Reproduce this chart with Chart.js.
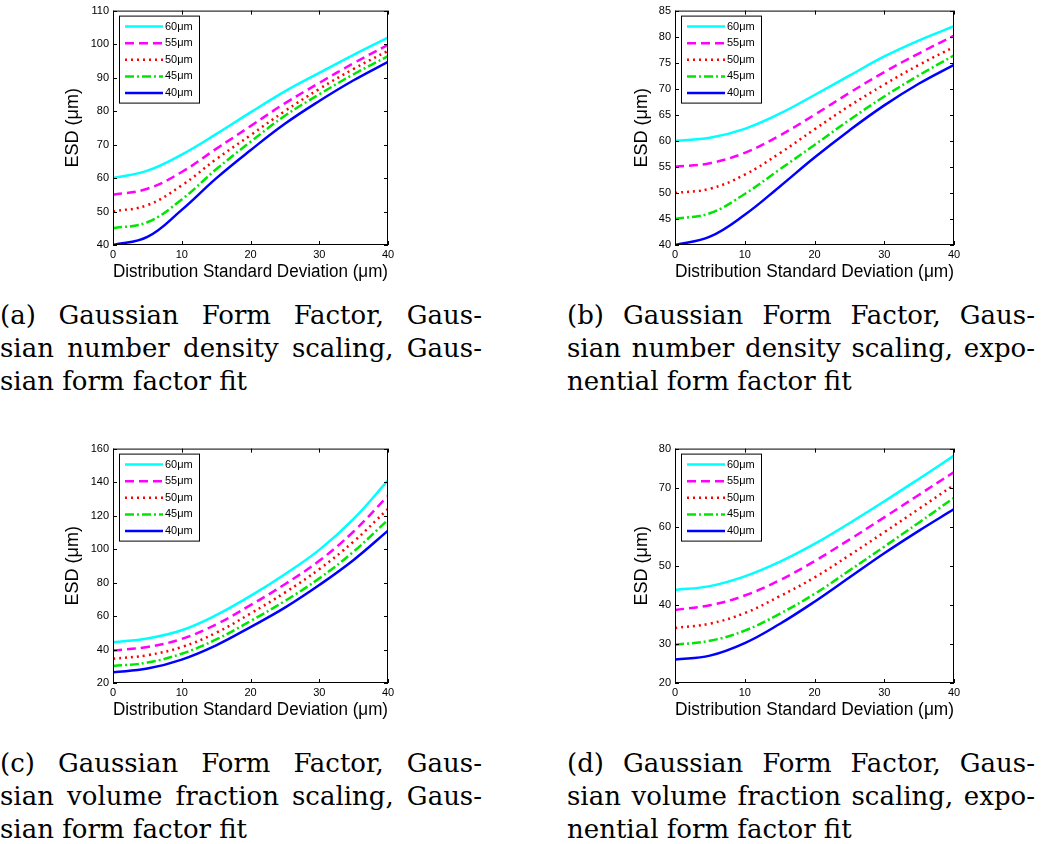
<!DOCTYPE html>
<html>
<head>
<meta charset="utf-8">
<script src="https://cdn.jsdelivr.net/npm/chart.js@4.4.1/dist/chart.umd.min.js"></script>
<style>
body { margin: 0; background: #fff; width: 1050px; height: 844px; position: relative; overflow: hidden; }
.panel { position: absolute; }
.cap { position: absolute; font-family: "DejaVu Serif", serif; font-size: 26px; line-height: 33px; color: #000; }
.cap div { text-align: justify; text-align-last: justify; }
.cap div.last { text-align-last: left; }
</style>
</head>
<body>
<div class="panel" style="left:60px;top:0;width:340px;height:286px"><canvas id="chartA"></canvas></div>
<div class="panel" style="left:629px;top:0;width:337px;height:286px"><canvas id="chartB"></canvas></div>
<div class="panel" style="left:60px;top:438px;width:340px;height:286px"><canvas id="chartC"></canvas></div>
<div class="panel" style="left:629px;top:438px;width:337px;height:286px"><canvas id="chartD"></canvas></div>

<div class="cap" style="left:0;top:299px;width:482px">
  <div>(a) Gaussian Form Factor, Gaus-</div>
  <div>sian number density scaling, Gaus-</div>
  <div class="last">sian form factor fit</div>
</div>
<div class="cap" style="left:567px;top:299px;width:468px">
  <div>(b) Gaussian Form Factor, Gaus-</div>
  <div>sian number density scaling, expo-</div>
  <div class="last">nential form factor fit</div>
</div>
<div class="cap" style="left:0;top:747px;width:482px">
  <div>(c) Gaussian Form Factor, Gaus-</div>
  <div>sian volume fraction scaling, Gaus-</div>
  <div class="last">sian form factor fit</div>
</div>
<div class="cap" style="left:567px;top:747px;width:468px">
  <div>(d) Gaussian Form Factor, Gaus-</div>
  <div>sian volume fraction scaling, expo-</div>
  <div class="last">nential form factor fit</div>
</div>

<script>
// --- Data ---
const xValues = [0, 5, 10, 15, 20, 25, 30, 35, 40];
const xTicks = [0, 10, 20, 30, 40];
const seriesLabels = ['60μm', '55μm', '50μm', '45μm', '40μm'];

// (a) number density scaling, Gaussian fit
const yTicksA = [40, 50, 60, 70, 80, 90, 100, 110];
const a60 = [60, 62.2, 67.0, 73.1, 79.6, 85.9, 91.4, 96.8, 101.9];
const a55 = [55, 56.8, 61.8, 68.7, 75.5, 82.3, 88.4, 94.3, 99.8];
const a50 = [50, 51.9, 57.8, 65.6, 72.8, 80.0, 86.6, 92.6, 98.0];
const a45 = [45, 46.8, 53.6, 62.6, 70.8, 78.6, 85.0, 91.0, 96.4];
const a40 = [40, 42.4, 50.5, 59.9, 68.3, 76.2, 83.0, 89.2, 94.7];

// (b) number density scaling, exponential fit
const yTicksB = [40, 45, 50, 55, 60, 65, 70, 75, 80, 85];
const b60 = [60, 60.6, 62.3, 65.2, 68.8, 72.5, 76.2, 79.3, 82.0];
const b55 = [55, 55.7, 57.7, 61.0, 65.0, 69.2, 73.2, 76.8, 80.2];
const b50 = [50, 50.8, 53.5, 57.6, 62.2, 66.7, 70.8, 74.6, 78.0];
const b45 = [45, 46.1, 49.8, 54.5, 59.2, 64.0, 68.5, 72.6, 76.4];
const b40 = [40, 41.6, 45.8, 51.2, 56.8, 62.0, 66.8, 71.0, 74.6];

// (c) volume fraction scaling, Gaussian fit
const yTicksC = [20, 40, 60, 80, 100, 120, 140, 160];
const c60 = [44.3, 46.6, 51.5, 60.5, 72.0, 85.0, 99.5, 118.0, 141.0];
const c55 = [39.4, 41.5, 46.3, 55.0, 66.5, 79.0, 93.0, 110.5, 131.8];
const c50 = [34.5, 36.6, 41.5, 50.0, 61.5, 74.0, 88.0, 104.5, 124.0];
const c45 = [30.1, 32.2, 37.5, 46.0, 57.0, 69.0, 82.5, 98.5, 117.5];
const c40 = [26.4, 28.6, 34.0, 42.5, 53.4, 65.0, 78.5, 93.5, 111.0];

// (d) volume fraction scaling, exponential fit
const yTicksD = [20, 30, 40, 50, 60, 70, 80];
const d60 = [43.8, 44.8, 47.3, 51.0, 55.6, 60.9, 66.5, 72.3, 78.2];
const d55 = [38.7, 39.9, 42.4, 46.3, 51.2, 56.7, 62.4, 68.2, 74.0];
const d50 = [34.1, 35.2, 37.9, 42.2, 47.0, 52.7, 58.6, 64.6, 70.7];
const d45 = [29.8, 30.8, 33.4, 37.7, 42.8, 48.8, 54.9, 61.1, 67.4];
const d40 = [26.0, 27.0, 30.2, 35.1, 40.8, 47.0, 53.2, 59.0, 64.5];

// --- Styles ---
const lineColors = ['#00ffff', '#ff00ff', '#ff0000', '#00e600', '#0000ff'];
const lineDashes = [[], [9, 5], [2, 4], [9, 3, 2, 3], []];

Chart.defaults.font.family = '"Liberation Sans", Arial, sans-serif';
Chart.defaults.color = '#000';

// MATLAB-style box with inward ticks on all four sides
const boxPlugin = {
    id: 'boxTicks',
    afterDatasetsDraw(chart) {
        const { ctx, chartArea: a, scales: { x, y } } = chart;
        const len = 4;
        ctx.save();
        ctx.strokeStyle = '#000';
        ctx.lineWidth = 1;
        ctx.strokeRect(a.left + 0.5, a.top + 0.5, a.right - a.left - 1, a.bottom - a.top - 1);
        ctx.beginPath();
        x.ticks.forEach(t => {
            const px = Math.round(x.getPixelForValue(t.value)) + 0.5;
            ctx.moveTo(px, a.bottom); ctx.lineTo(px, a.bottom - len);
            ctx.moveTo(px, a.top); ctx.lineTo(px, a.top + len);
        });
        y.ticks.forEach(t => {
            const py = Math.round(y.getPixelForValue(t.value)) + 0.5;
            ctx.moveTo(a.left, py); ctx.lineTo(a.left + len, py);
            ctx.moveTo(a.right, py); ctx.lineTo(a.right - len, py);
        });
        ctx.stroke();
        ctx.restore();
    }
};

// Legend box in the upper-left corner of the plot area
const legendPlugin = {
    id: 'boxLegend',
    afterDraw(chart) {
        const { ctx, chartArea: a } = chart;
        const bx = a.left + 6, by = a.top + 5, bw = 80, bh = 87;
        ctx.save();
        ctx.fillStyle = '#fff';
        ctx.fillRect(bx, by, bw, bh);
        ctx.strokeStyle = '#000';
        ctx.lineWidth = 1;
        ctx.strokeRect(bx + 0.5, by + 0.5, bw, bh);
        ctx.font = '11px "Liberation Sans", Arial, sans-serif';
        ctx.textBaseline = 'middle';
        chart.data.datasets.forEach((ds, i) => {
            const yy = by + 11 + i * 16.6;
            ctx.strokeStyle = ds.borderColor;
            ctx.lineWidth = ds.borderWidth;
            ctx.setLineDash(ds.borderDash);
            ctx.beginPath();
            ctx.moveTo(bx + 6, yy);
            ctx.lineTo(bx + 44, yy);
            ctx.stroke();
            ctx.setLineDash([]);
            ctx.fillStyle = '#000';
            ctx.fillText(ds.label, bx + 46, yy);
        });
        ctx.restore();
    }
};

function makePanel(canvasId, yTicks, series, yAxisWidth, padTop) {
    const datasets = series.map((vals, i) => ({
        label: seriesLabels[i],
        data: xValues.map((xv, k) => ({ x: xv, y: vals[k] })),
        borderColor: lineColors[i],
        borderDash: lineDashes[i],
        borderWidth: 2.5,
        pointRadius: 0,
        fill: false,
        tension: 0.4
    }));

    return new Chart(document.getElementById(canvasId), {
        type: 'line',
        data: { datasets },
        options: {
            responsive: true,
            maintainAspectRatio: false,
            animation: false,
            layout: { padding: { top: padTop, right: 12, left: 0, bottom: 0 } },
            plugins: { legend: { display: false }, tooltip: { enabled: false } },
            scales: {
                x: {
                    type: 'linear',
                    min: xTicks[0],
                    max: xTicks[xTicks.length - 1],
                    ticks: { stepSize: xTicks[1] - xTicks[0], padding: 3, font: { size: 11 }, color: '#000', maxRotation: 0 },
                    grid: { display: false, drawTicks: false },
                    border: { display: false },
                    title: { display: true, text: 'Distribution Standard Deviation (μm)', font: { size: 18 }, color: '#000', padding: { top: 0, bottom: 3 } },
                    afterFit(s) { s.height = 41; }
                },
                y: {
                    type: 'linear',
                    min: yTicks[0],
                    max: yTicks[yTicks.length - 1],
                    ticks: { stepSize: yTicks[1] - yTicks[0], padding: 4, font: { size: 11 }, color: '#000' },
                    grid: { display: false, drawTicks: false },
                    border: { display: false },
                    title: { display: true, text: 'ESD (μm)', font: { size: 18 }, color: '#000', padding: { top: 2, bottom: 0 } },
                    afterFit(s) { s.width = yAxisWidth; }
                }
            }
        },
        plugins: [boxPlugin, legendPlugin]
    });
}

makePanel('chartA', yTicksA, [a60, a55, a50, a45, a40], 53, 5);
makePanel('chartB', yTicksB, [b60, b55, b50, b45, b40], 46, 4);
makePanel('chartC', yTicksC, [c60, c55, c50, c45, c40], 53, 5);
makePanel('chartD', yTicksD, [d60, d55, d50, d45, d40], 46, 5);
</script>
</body>
</html>
